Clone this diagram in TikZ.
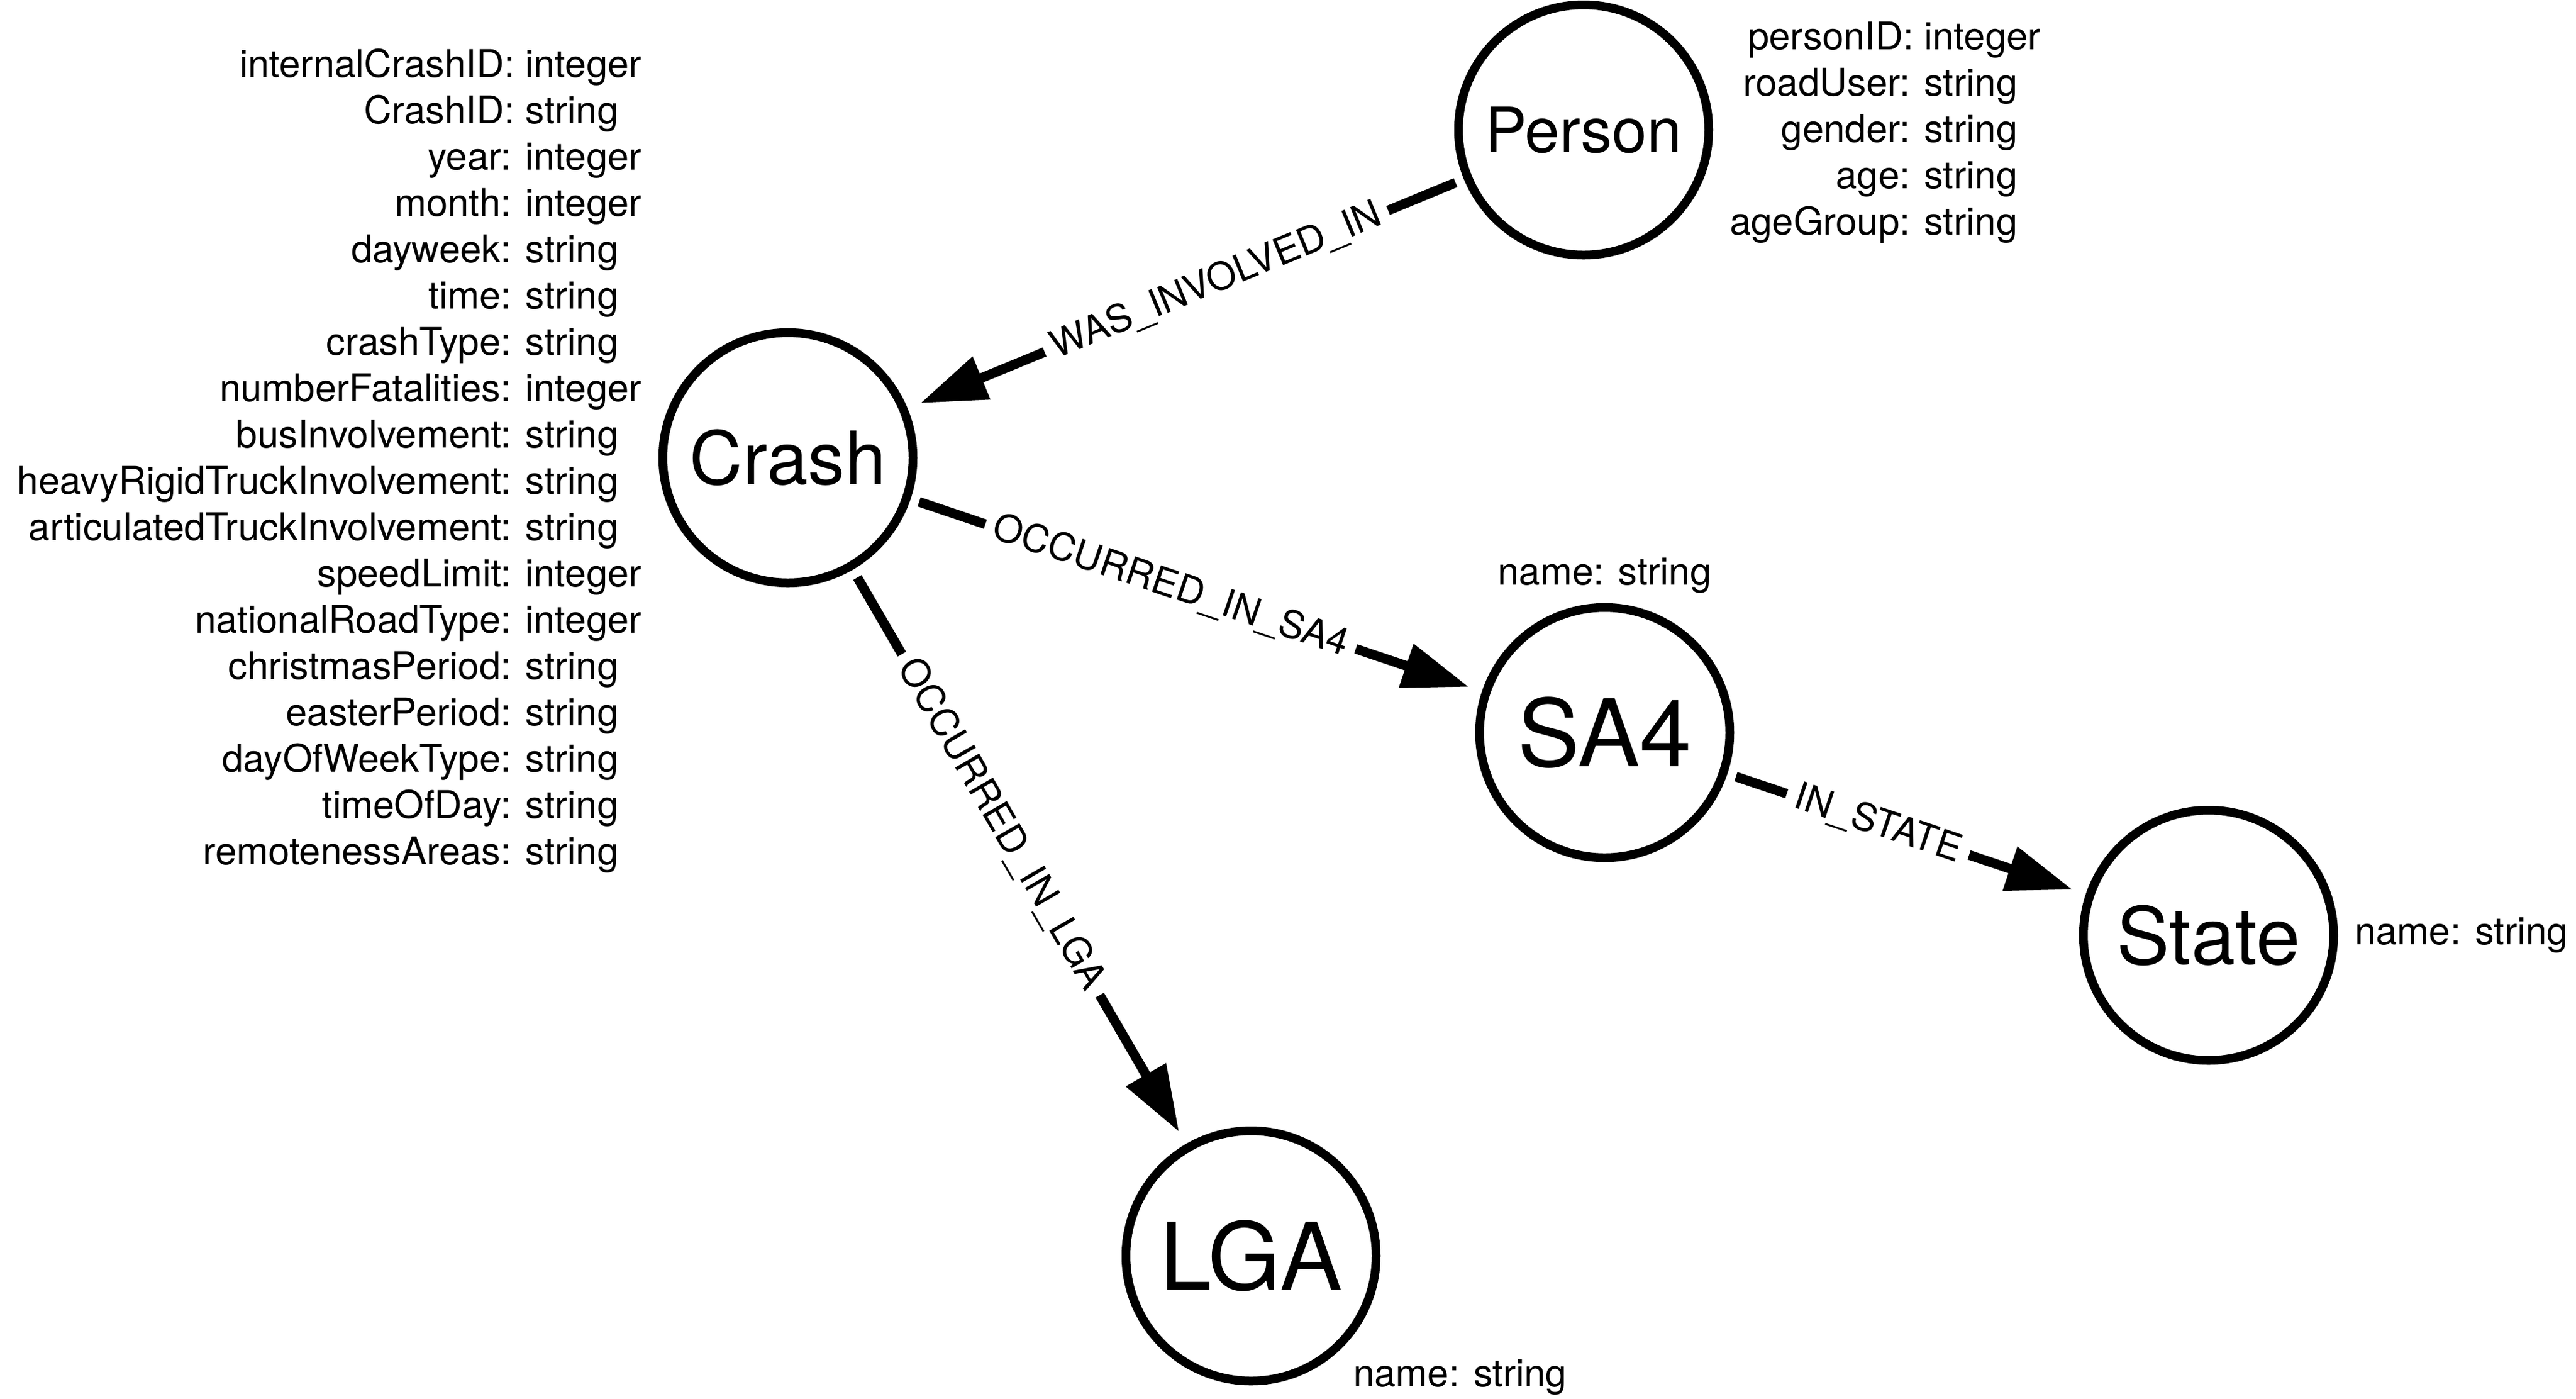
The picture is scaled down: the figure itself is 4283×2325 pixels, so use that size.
\documentclass[tikz,border=0pt]{standalone}
\usepackage{fontspec}
\setmainfont{TeX Gyre Heros}
\usepackage{tikz}
\usetikzlibrary{arrows.meta,positioning}

\begin{document}
\begin{tikzpicture}[x=0.2pt,y=-0.2pt,
  entity/.style={circle,draw=black,line width=2.9pt,minimum size=83.2pt,inner sep=0pt},
  props/.style={inner sep=0pt,font=\fontsize{12.7}{15.4}\selectfont},
  rel/.style={line width=3.2pt,-{Triangle[length=22pt,width=14.6pt]},shorten <=3pt,shorten >=4.6pt},
  rellabel/.style={sloped,fill=white,inner sep=3pt,font=\fontsize{12.7}{15.4}\selectfont}]
\useasboundingbox (0,0) rectangle (4283,2325);
%Node Coordinates
\node at (2633,216) [entity,font=\fontsize{20.8}{25}\selectfont] (Person) {Person};
\node at (1310,761) [entity,font=\fontsize{24.5}{29}\selectfont] (Crash) {Crash};
\node at (2668,1218) [entity,font=\fontsize{31}{37}\selectfont] (SA4) {SA4};
\node at (3672,1555) [entity,font=\fontsize{26.4}{32}\selectfont] (State) {State};
\node at (2080,2088) [entity,font=\fontsize{31}{37}\selectfont] (LGA) {LGA};

%Node Properties
\node [props,left=5.4pt of Crash,yshift=-1.4pt] (CrashProps) {\begin{tabular}{@{}r@{: }l@{}}
internalCrashID & integer\\
CrashID & string\\
year & integer\\
month & integer\\
dayweek & string\\
time & string\\
crashType & string\\
numberFatalities & integer\\
busInvolvement & string\\
heavyRigidTruckInvolvement & string\\
articulatedTruckInvolvement & string\\
speedLimit & integer\\
nationalRoadType & integer\\
christmasPeriod & string\\
easterPeriod & string\\
dayOfWeekType & string\\
timeOfDay & string\\
remotenessAreas & string
\end{tabular}};
\node [props,right=5.4pt of Person,yshift=-1.1pt] (PersonProps) {\begin{tabular}{@{}r@{: }l@{}}
personID & integer\\
roadUser & string\\
gender & string\\
age & string\\
ageGroup & string
\end{tabular}};
\node [props,above=3pt of SA4] (SA4Props) {name: string};
\node [props,right=5.4pt of State] (StateProps) {name: string};
\node [props,below right=3.8pt and 3.4pt of LGA] (LGAProps) {name: string};

%Connections
\draw [rel] (Person) -- node[rellabel,pos=0.445] {WAS\_INVOLVED\_IN} (Crash);
\draw [rel] (Crash) -- node[rellabel,pos=0.455] {OCCURRED\_IN\_SA4} (SA4);
\draw [rel] (Crash) -- node[rellabel,pos=0.444] {OCCURRED\_IN\_LGA} (LGA);
\draw [rel] (SA4) -- node[rellabel,pos=0.42] {IN\_STATE} (State);
\end{tikzpicture}
\end{document}
